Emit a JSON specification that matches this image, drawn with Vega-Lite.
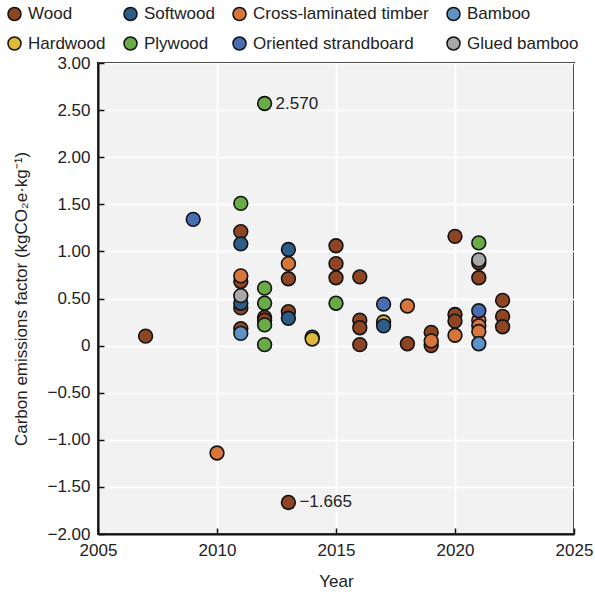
{
  "$schema": "https://vega.github.io/schema/vega-lite/v6.json",
  "width": 476,
  "height": 471,
  "autosize": {"type": "none"},
  "padding": {"left": 98, "top": 63, "right": 21, "bottom": 61},
  "background": "white",
  "config": {
    "font": "Liberation Sans",
    "view": {"fill": "#f2f2f2", "stroke": "#111111", "strokeWidth": 2},
    "axis": {
      "domainColor": "#111111",
      "domainWidth": 2,
      "tickColor": "#111111",
      "tickWidth": 1.5,
      "tickSize": -6,
      "labelFontSize": 17,
      "labelColor": "#222222",
      "titleFontSize": 17,
      "titleFontWeight": "normal",
      "titleColor": "#222222",
      "grid": true,
      "gridColor": "#ffffff",
      "gridWidth": 1.5
    }
  },
  "data": {
    "values": [
      {"year": 2007, "value": 0.10, "material": "Wood"},
      {"year": 2009, "value": 1.34, "material": "Oriented strandboard"},
      {"year": 2010, "value": -1.14, "material": "Cross-laminated timber"},
      {"year": 2011, "value": 1.51, "material": "Plywood"},
      {"year": 2011, "value": 1.21, "material": "Wood"},
      {"year": 2011, "value": 1.08, "material": "Softwood"},
      {"year": 2011, "value": 0.68, "material": "Wood"},
      {"year": 2011, "value": 0.74, "material": "Cross-laminated timber"},
      {"year": 2011, "value": 0.40, "material": "Wood"},
      {"year": 2011, "value": 0.45, "material": "Softwood"},
      {"year": 2011, "value": 0.53, "material": "Glued bamboo"},
      {"year": 2011, "value": 0.18, "material": "Wood"},
      {"year": 2011, "value": 0.13, "material": "Bamboo"},
      {"year": 2012, "value": 2.57, "material": "Plywood"},
      {"year": 2012, "value": 0.61, "material": "Plywood"},
      {"year": 2012, "value": 0.45, "material": "Plywood"},
      {"year": 2012, "value": 0.30, "material": "Wood"},
      {"year": 2012, "value": 0.27, "material": "Wood"},
      {"year": 2012, "value": 0.22, "material": "Plywood"},
      {"year": 2012, "value": 0.01, "material": "Plywood"},
      {"year": 2013, "value": 1.02, "material": "Softwood"},
      {"year": 2013, "value": 0.87, "material": "Cross-laminated timber"},
      {"year": 2013, "value": 0.71, "material": "Wood"},
      {"year": 2013, "value": 0.36, "material": "Wood"},
      {"year": 2013, "value": 0.29, "material": "Softwood"},
      {"year": 2013, "value": -1.665, "material": "Wood"},
      {"year": 2014, "value": 0.09, "material": "Hardwood"},
      {"year": 2014, "value": 0.07, "material": "Hardwood"},
      {"year": 2015, "value": 1.06, "material": "Wood"},
      {"year": 2015, "value": 0.87, "material": "Wood"},
      {"year": 2015, "value": 0.72, "material": "Wood"},
      {"year": 2015, "value": 0.45, "material": "Plywood"},
      {"year": 2016, "value": 0.73, "material": "Wood"},
      {"year": 2016, "value": 0.27, "material": "Wood"},
      {"year": 2016, "value": 0.19, "material": "Wood"},
      {"year": 2016, "value": 0.01, "material": "Wood"},
      {"year": 2017, "value": 0.44, "material": "Oriented strandboard"},
      {"year": 2017, "value": 0.25, "material": "Hardwood"},
      {"year": 2017, "value": 0.21, "material": "Softwood"},
      {"year": 2018, "value": 0.42, "material": "Cross-laminated timber"},
      {"year": 2018, "value": 0.02, "material": "Wood"},
      {"year": 2019, "value": 0.14, "material": "Wood"},
      {"year": 2019, "value": 0.00, "material": "Wood"},
      {"year": 2019, "value": 0.05, "material": "Cross-laminated timber"},
      {"year": 2020, "value": 1.16, "material": "Wood"},
      {"year": 2020, "value": 0.33, "material": "Wood"},
      {"year": 2020, "value": 0.26, "material": "Wood"},
      {"year": 2020, "value": 0.11, "material": "Cross-laminated timber"},
      {"year": 2021, "value": 1.09, "material": "Plywood"},
      {"year": 2021, "value": 0.88, "material": "Wood"},
      {"year": 2021, "value": 0.91, "material": "Glued bamboo"},
      {"year": 2021, "value": 0.72, "material": "Wood"},
      {"year": 2021, "value": 0.27, "material": "Cross-laminated timber"},
      {"year": 2021, "value": 0.21, "material": "Cross-laminated timber"},
      {"year": 2021, "value": 0.15, "material": "Cross-laminated timber"},
      {"year": 2021, "value": 0.37, "material": "Oriented strandboard"},
      {"year": 2021, "value": 0.02, "material": "Bamboo"},
      {"year": 2022, "value": 0.48, "material": "Wood"},
      {"year": 2022, "value": 0.31, "material": "Wood"},
      {"year": 2022, "value": 0.20, "material": "Wood"}
    ]
  },
  "encoding": {
    "x": {
      "field": "year",
      "type": "quantitative",
      "scale": {"domain": [2005, 2025], "nice": false, "zero": false},
      "axis": {
        "title": "Year",
        "values": [2005, 2010, 2015, 2020, 2025],
        "format": "d",
        "labelPadding": 14,
        "labelFlush": false,
        "titlePadding": 15
      }
    },
    "y": {
      "field": "value",
      "type": "quantitative",
      "scale": {"domain": [-2, 3], "nice": false, "zero": false},
      "axis": {
        "title": "Carbon emissions factor (kgCO₂e·kg⁻¹)",
        "values": [-2, -1.5, -1, -0.5, 0, 0.5, 1, 1.5, 2, 2.5, 3],
        "labelExpr": "datum.value == 0 ? '0' : replace(format(datum.value, '.2f'), '-', '−')",
        "labelPadding": 14,
        "labelFlush": false,
        "titlePadding": 16
      }
    }
  },
  "layer": [
    {
      "mark": {"type": "point", "filled": true, "opacity": 1, "stroke": "#111111", "strokeWidth": 1.6, "size": 190},
      "encoding": {
        "color": {
          "field": "material",
          "type": "nominal",
          "scale": {
            "domain": ["Wood", "Softwood", "Cross-laminated timber", "Bamboo", "Hardwood", "Plywood", "Oriented strandboard", "Glued bamboo"],
            "range": ["#8e4523", "#2d5d86", "#d7763a", "#5e93c7", "#dfb93a", "#69ab45", "#4a6cb3", "#a8a8a8"]
          },
          "legend": {
            "title": null,
            "orient": "none",
            "legendX": -92,
            "legendY": -58,
            "direction": "horizontal",
            "columns": 4,
            "columnPadding": 14,
            "rowPadding": 9,
            "labelFontSize": 17,
            "labelLimit": 400,
            "labelColor": "#222222",
            "labelOffset": 5,
            "symbolType": "circle",
            "symbolSize": 170,
            "symbolStrokeColor": "#111111",
            "symbolStrokeWidth": 1.5,
            "symbolOpacity": 1
          }
        }
      }
    },
    {
      "transform": [{"filter": "datum.value > 2 || datum.value < -1.5"}],
      "mark": {"type": "text", "align": "left", "baseline": "middle", "dx": 11, "fontSize": 17, "color": "#222222"},
      "encoding": {
        "text": {"field": "value", "type": "quantitative", "format": ".3f"}
      }
    }
  ]
}
